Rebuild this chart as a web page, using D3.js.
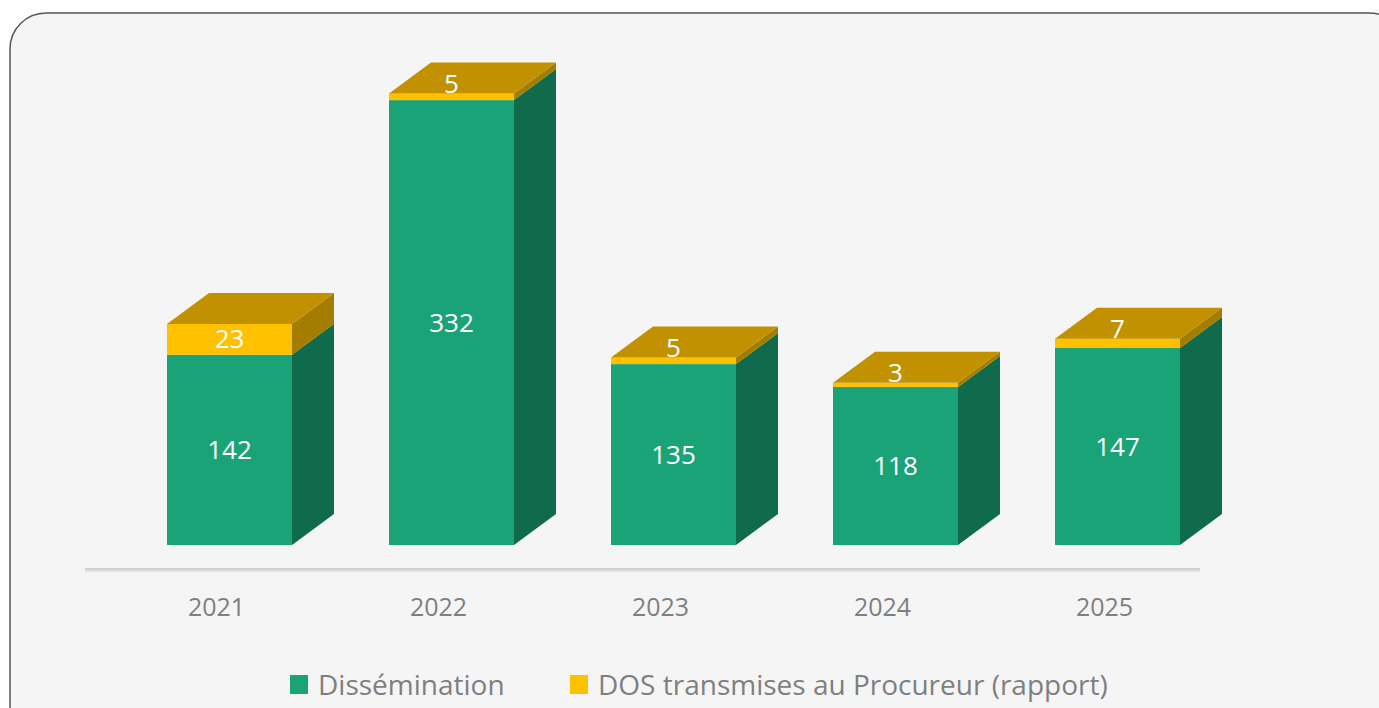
<!DOCTYPE html>
<html lang="fr">
  <head>
    <meta charset="UTF-8" />
    <title>Dissémination vs DOS transmises</title>
    <script src="https://d3js.org/d3.v7.min.js"></script>
    <style>
      body { margin: 0; background: #ffffff; }
      text { font-family: "Open Sans", "Noto Sans", sans-serif; }
    </style>
  </head>
  <body>
    <svg id="chart" width="1379" height="708"></svg>
    <script>
      const years = ["2021", "2022", "2023", "2024", "2025"];
      const dissemination = [142, 332, 135, 118, 147];
      const dosProcureur = [23, 5, 5, 3, 7];
      const seriesNames = ["Dissémination", "DOS transmises au Procureur (rapport)"];

      const svg = d3.select("#chart"),
        width = +svg.attr("width"),
        height = +svg.attr("height");

      const front = { green: "#1ba378", yellow: "#ffc000" },
        side = { green: "#0f6b4c", yellow: "#a47c00" },
        topFace = "#c29100";

      const depth = { dx: 42, dy: -31 };

      // card background
      svg.append("rect")
        .attr("x", 10).attr("y", 13)
        .attr("width", 1395).attr("height", 740)
        .attr("rx", 36).attr("ry", 36)
        .attr("fill", "#f5f5f5")
        .attr("stroke", "#555")
        .attr("stroke-width", 1.5);

      const x = d3.scaleBand()
        .domain(years)
        .range([118.5, 1228.5])
        .paddingInner(0.437)
        .paddingOuter(0.2185);

      const y = d3.scaleLinear().domain([0, 400]).range([545, 9]);

      // floor / axis line
      svg.append("line")
        .attr("x1", 85).attr("x2", 1200)
        .attr("y1", 570).attr("y2", 570)
        .attr("stroke", "#e2e2e2").attr("stroke-width", 4);
      svg.append("line")
        .attr("x1", 85).attr("x2", 1200)
        .attr("y1", 569).attr("y2", 569)
        .attr("stroke", "#cfcfcf").attr("stroke-width", 2);

      const data = years.map((yr, i) => ({
        year: yr,
        segs: [
          { key: "green", v0: 0, v1: dissemination[i], value: dissemination[i] },
          { key: "yellow", v0: dissemination[i], v1: dissemination[i] + dosProcureur[i], value: dosProcureur[i] }
        ]
      }));

      const bw = x.bandwidth();
      const bars = svg.append("g");

      data.forEach(d => {
        const x0 = x(d.year), x1 = x0 + bw;
        const g = bars.append("g");
        d.segs.forEach(s => {
          const yb = y(s.v0), yt = y(s.v1);
          // right side face
          g.append("path")
            .attr("d", `M${x1},${yb}L${x1 + depth.dx},${yb + depth.dy}L${x1 + depth.dx},${yt + depth.dy}L${x1},${yt}Z`)
            .attr("fill", side[s.key]);
          // front face
          g.append("rect")
            .attr("x", x0).attr("y", yt)
            .attr("width", bw).attr("height", yb - yt)
            .attr("fill", front[s.key]);
        });
        const top = d.segs[d.segs.length - 1];
        const yt = y(top.v1);
        g.append("path")
          .attr("d", `M${x0},${yt}L${x0 + depth.dx},${yt + depth.dy}L${x1 + depth.dx},${yt + depth.dy}L${x1},${yt}Z`)
          .attr("fill", topFace);

        // labels
        d.segs.forEach(s => {
          const yb = y(s.v0), yt2 = y(s.v1);
          const h = yb - yt2;
          const cy = h > 24 ? (yb + yt2) / 2 : yt2 - 10;
          g.append("text")
            .attr("x", x0 + bw / 2)
            .attr("y", cy)
            .attr("dy", "0.35em")
            .attr("text-anchor", "middle")
            .attr("fill", "#ffffff")
            .style("font-size", "26px")
            .text(s.value);
        });
      });

      // year labels
      svg.append("g").selectAll("text")
        .data(years)
        .join("text")
        .attr("x", d => x(d) + bw / 2 - 13)
        .attr("y", 607)
        .attr("dy", "0.35em")
        .attr("text-anchor", "middle")
        .attr("fill", "#7f7f7f")
        .style("font-size", "25px")
        .text(d => d);

      // legend
      const legend = svg.append("g").attr("transform", "translate(290, 685)");
      const legendX = [0, 280];
      const legendColor = [front.green, front.yellow];
      seriesNames.forEach((name, i) => {
        legend.append("rect")
          .attr("x", legendX[i]).attr("y", -10)
          .attr("width", 18).attr("height", 19)
          .attr("fill", legendColor[i]);
        legend.append("text")
          .attr("x", legendX[i] + 28)
          .attr("y", 0)
          .attr("dy", "0.35em")
          .attr("fill", "#7f7f7f")
          .style("font-size", "28px")
          .text(name);
      });
    </script>
  </body>
</html>
